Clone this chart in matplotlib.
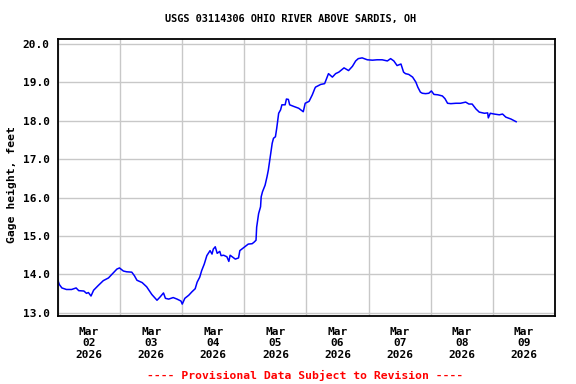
import pandas as pd
import matplotlib
matplotlib.use("Agg")
import matplotlib.pyplot as plt
import matplotlib.dates as mdates

# Gage height readings (feet)
times = [
    "2026-03-02 00:00", "2026-03-02 00:30", "2026-03-02 01:30", "2026-03-02 03:15",
    "2026-03-02 05:15", "2026-03-02 07:00", "2026-03-02 08:00", "2026-03-02 10:00",
    "2026-03-02 11:00", "2026-03-02 11:45", "2026-03-02 12:45", "2026-03-02 13:45",
    "2026-03-02 15:30", "2026-03-02 17:30", "2026-03-02 19:30", "2026-03-02 21:30",
    "2026-03-02 22:45", "2026-03-02 23:45", "2026-03-03 01:15", "2026-03-03 02:30",
    "2026-03-03 04:30", "2026-03-03 05:30", "2026-03-03 06:30", "2026-03-03 08:30",
    "2026-03-03 10:15", "2026-03-03 12:15", "2026-03-03 14:15", "2026-03-03 15:30",
    "2026-03-03 16:45", "2026-03-03 17:30", "2026-03-03 18:45", "2026-03-03 20:30",
    "2026-03-03 22:00", "2026-03-03 23:30", "2026-03-04 00:00", "2026-03-04 01:00",
    "2026-03-04 02:30", "2026-03-04 03:45", "2026-03-04 05:00", "2026-03-04 05:45",
    "2026-03-04 06:45", "2026-03-04 07:30", "2026-03-04 08:30", "2026-03-04 09:30",
    "2026-03-04 10:15", "2026-03-04 10:45", "2026-03-04 11:30", "2026-03-04 12:00",
    "2026-03-04 12:45", "2026-03-04 13:30", "2026-03-04 14:30", "2026-03-04 15:00",
    "2026-03-04 16:00", "2026-03-04 17:15", "2026-03-04 18:00", "2026-03-04 18:30",
    "2026-03-04 19:30", "2026-03-04 20:30", "2026-03-04 21:45", "2026-03-04 22:15",
    "2026-03-04 23:45", "2026-03-05 01:30", "2026-03-05 03:00", "2026-03-05 03:45",
    "2026-03-05 04:30", "2026-03-05 04:45", "2026-03-05 05:30", "2026-03-05 06:15",
    "2026-03-05 06:30", "2026-03-05 07:00", "2026-03-05 08:00", "2026-03-05 08:45",
    "2026-03-05 09:15", "2026-03-05 10:00", "2026-03-05 10:45", "2026-03-05 11:15",
    "2026-03-05 12:00", "2026-03-05 12:30", "2026-03-05 13:15", "2026-03-05 14:00",
    "2026-03-05 14:30", "2026-03-05 15:45", "2026-03-05 16:15", "2026-03-05 17:00",
    "2026-03-05 17:30", "2026-03-05 19:00", "2026-03-05 21:00", "2026-03-05 22:45",
    "2026-03-05 23:30", "2026-03-06 01:00", "2026-03-06 02:15", "2026-03-06 03:15",
    "2026-03-06 03:30", "2026-03-06 05:30", "2026-03-06 07:00", "2026-03-06 07:45",
    "2026-03-06 08:30", "2026-03-06 10:00", "2026-03-06 11:15", "2026-03-06 12:30",
    "2026-03-06 14:30", "2026-03-06 16:15", "2026-03-06 17:45", "2026-03-06 19:00",
    "2026-03-06 20:00", "2026-03-06 21:30", "2026-03-06 23:30", "2026-03-07 01:30",
    "2026-03-07 03:15", "2026-03-07 05:15", "2026-03-07 07:15", "2026-03-07 08:30",
    "2026-03-07 09:45", "2026-03-07 11:00", "2026-03-07 12:30", "2026-03-07 13:30",
    "2026-03-07 14:15", "2026-03-07 15:30", "2026-03-07 17:00", "2026-03-07 18:15",
    "2026-03-07 19:00", "2026-03-07 20:00", "2026-03-07 20:45", "2026-03-07 22:00",
    "2026-03-07 23:15", "2026-03-08 00:15", "2026-03-08 01:15", "2026-03-08 02:45",
    "2026-03-08 04:30", "2026-03-08 05:30", "2026-03-08 06:30", "2026-03-08 07:45",
    "2026-03-08 09:45", "2026-03-08 11:30", "2026-03-08 13:30", "2026-03-08 14:45",
    "2026-03-08 16:00", "2026-03-08 17:30", "2026-03-08 18:45", "2026-03-08 20:45",
    "2026-03-08 22:00", "2026-03-08 22:15", "2026-03-08 23:00", "2026-03-09 00:30",
    "2026-03-09 02:30", "2026-03-09 03:45", "2026-03-09 05:00", "2026-03-09 07:00",
    "2026-03-09 09:00",
]
gage_ft = [
    13.84, 13.74, 13.65, 13.61, 13.61, 13.65, 13.58, 13.57,
    13.51, 13.53, 13.44, 13.59, 13.71, 13.84, 13.91, 14.05,
    14.14, 14.17, 14.09, 14.07, 14.06, 13.97, 13.85, 13.79,
    13.68, 13.48, 13.33, 13.42, 13.52, 13.38, 13.36, 13.40,
    13.36, 13.31, 13.23, 13.38, 13.46, 13.55, 13.63, 13.80,
    13.93, 14.10, 14.27, 14.49, 14.57, 14.62, 14.53, 14.66,
    14.72, 14.55, 14.60, 14.49, 14.50, 14.46, 14.34, 14.50,
    14.45, 14.40, 14.43, 14.62, 14.70, 14.79, 14.80, 14.84,
    14.89, 15.23, 15.58, 15.76, 16.02, 16.15, 16.32, 16.54,
    16.71, 17.06, 17.41, 17.54, 17.58, 17.80, 18.19, 18.28,
    18.41, 18.41, 18.56, 18.55, 18.41, 18.37, 18.32, 18.23,
    18.45, 18.50, 18.67, 18.84, 18.87, 18.94, 18.96, 19.09,
    19.22, 19.13, 19.22, 19.26, 19.37, 19.30, 19.41, 19.55,
    19.61, 19.63, 19.58, 19.57, 19.58, 19.58, 19.55, 19.61,
    19.55, 19.43, 19.47, 19.26, 19.22, 19.20, 19.13, 19.00,
    18.87, 18.74, 18.71, 18.70, 18.71, 18.77, 18.68, 18.67,
    18.64, 18.57, 18.45, 18.44, 18.45, 18.45, 18.48, 18.43,
    18.43, 18.30, 18.22, 18.19, 18.20, 18.07, 18.19, 18.17,
    18.15, 18.17, 18.09, 18.04, 17.97,
]

title = "USGS 03114306 OHIO RIVER ABOVE SARDIS, OH"
ylabel = "Gage height, feet"
footer = "---- Provisional Data Subject to Revision ----"

t = pd.to_datetime(times)
mono = "DejaVu Sans Mono"

fig = plt.figure(figsize=(5.76, 3.84), dpi=100)
ax = fig.add_axes([0.1007, 0.177, 0.8628, 0.7214])

ax.plot(t, gage_ft, color="#0000ff", linewidth=1.1)

ax.set_xlim(pd.Timestamp("2026-03-02"), pd.Timestamp("2026-03-10"))
ax.set_ylim(12.92, 20.12)

# gridlines at midnight, labels centred on each day
ax.xaxis.set_major_locator(mdates.DayLocator())
ax.xaxis.set_major_formatter(plt.NullFormatter())
ax.xaxis.set_minor_locator(mdates.HourLocator(byhour=[12]))
ax.xaxis.set_minor_formatter(mdates.DateFormatter("%b\n%d\n%Y"))
ax.set_yticks([13, 14, 15, 16, 17, 18, 19, 20])
ax.yaxis.set_major_formatter(plt.FormatStrFormatter("%.1f"))

ax.grid(True, which="major", color="#c8c8c8", linewidth=1)
ax.set_axisbelow(True)
ax.tick_params(which="both", length=0)
ax.tick_params(axis="x", which="minor", pad=8)
ax.tick_params(axis="y", pad=6)

for lab in ax.get_xticklabels(minor=True) + ax.get_yticklabels():
    lab.set_fontfamily(mono)
    lab.set_fontweight("bold")
    lab.set_fontsize(8)
for lab in ax.get_xticklabels(minor=True):
    lab.set_linespacing(1.15)

for s in ax.spines.values():
    s.set_linewidth(1.3)
    s.set_color("black")

ax.set_ylabel(ylabel, family=mono, fontweight="bold", fontsize=8.2)
ax.yaxis.set_label_coords(-0.083, 0.475)
fig.text(0.505, 0.95, title, ha="center", va="center", family=mono,
         fontweight="bold", fontsize=7.4)
fig.text(0.53, 0.023, footer, ha="center", va="center", family=mono,
         fontweight="bold", fontsize=8.2, color="#ff0000")

fig.savefig("out.png", dpi=100)
